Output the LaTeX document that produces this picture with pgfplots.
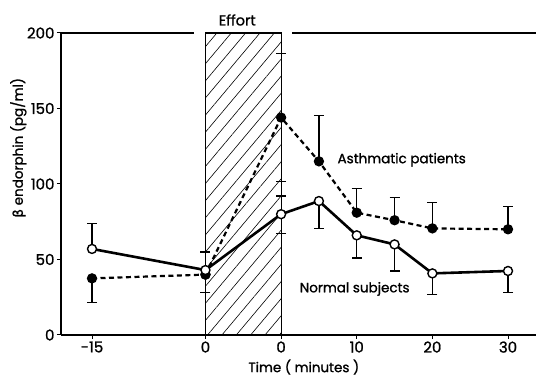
\documentclass[border=0pt]{standalone}
\usepackage{fontspec}
\setmainfont{Poppins}[FakeBold=1.2]
\newfontfamily\grk{DejaVu Sans}[FakeBold=1.2]
\usepackage{pgfplots}
\pgfplotsset{compat=1.18}
\usetikzlibrary{patterns.meta}
\begin{document}
\begin{tikzpicture}
\useasboundingbox (-61pt,-42pt) rectangle (475pt,335pt);
\begin{axis}[
  scale only axis, width=475pt, height=302pt,
  xmin=-19.1, xmax=43.7, ymin=0, ymax=200,
  axis lines*=left,
  axis line style={line width=1.6pt},
  xtick={-15,0,10,20,30,40}, xticklabels={-15,0,0,10,20,30},
  ytick={0,50,100,150,200},
  tick style={line width=1pt,black}, major tick length=4pt, tick align=outside,
  clip=false,
  /pgf/number format/assume math mode=true,
  ticklabel style={font=\fontsize{15}{15}\selectfont},
  xticklabel style={yshift=1pt},
  yticklabel style={xshift=1pt},
  xlabel={Time ( minutes )},
  xlabel style={font=\fontsize{13.5}{13.5}\selectfont, at={(axis cs:13,0)}, anchor=north, yshift=-21pt},
  ylabel={{\grk β} endorphin (pg/ml)},
  ylabel style={font=\fontsize{13.5}{13.5}\selectfont, at={(axis cs:-19.1,124)}, anchor=south, yshift=31pt},
  error bars/error bar style={line width=1.2pt,solid},
  error bars/error mark options={rotate=90, mark size=5pt, line width=1.2pt,solid},
]
\draw[line width=1.2pt, pattern={Lines[angle=50,distance=11pt,line width=0.6pt]}] (axis cs:0,0) rectangle (axis cs:10,200);
\draw[line width=1.6pt] (axis cs:-19.1,200) -- (axis cs:-1.5,200);
\draw[line width=1.6pt] (axis cs:11.5,200) -- (axis cs:43.7,200);

% error bars asthmatic
\addplot[draw=none, mark=none, error bars/.cd, y dir=plus, y explicit] coordinates {
 (10,144) +- (0,42.5) (15,115) +- (0,30.5) (20,81) +- (0,16) (25,76) +- (0,15) (30,70.6) +- (0,17.4) (40,70) +- (0,15)};
\addplot[draw=none, mark=none, error bars/.cd, y dir=minus, y explicit] coordinates {
 (-15,37.5) +- (0,16) (0,40) +- (0,12) (10,144) +- (0,42.5)};
% error bars normal
\addplot[draw=none, mark=none, error bars/.cd, y dir=plus, y explicit] coordinates {
 (-15,57) +- (0,17) (0,43) +- (0,12) (10,80) +- (0,12)};
\addplot[draw=none, mark=none, error bars/.cd, y dir=minus, y explicit] coordinates {
 (10,80) +- (0,13) (15,88.7) +- (0,18) (20,66) +- (0,15) (25,60) +- (0,17.6) (30,40.8) +- (0,13.8) (40,42.4) +- (0,14.1)};

% asthmatic patients
\addplot[black, line width=2.2pt, dash pattern=on 5pt off 3.5pt, mark=*, mark size=4pt, mark options={solid, fill=black}] coordinates {
 (-15,37.5) (0,40)};
\addplot[black, line width=2.2pt, dash pattern=on 5pt off 3.5pt, mark=*, mark size=4pt, mark options={solid, fill=black}] coordinates {
 (0,40) (10,144) (15,115) (20,81) (25,76) (30,70.6) (40,70)};
% normal subjects
\addplot[black, line width=2.6pt, mark=*, mark size=4.5pt, mark options={solid, fill=white, line width=1.4pt}] coordinates {
 (-15,57) (0,43) (10,80) (15,88.7) (20,66) (25,60) (30,40.8) (40,42.4)};

\node[font=\fontsize{14.5}{14.5}\selectfont, anchor=base] at (axis cs:4.2,205) {Effort};
\node[font=\fontsize{13.5}{13.5}\selectfont, anchor=west] at (axis cs:17.0,116) {Asthmatic patients};
\node[font=\fontsize{13.5}{13.5}\selectfont, anchor=west] at (axis cs:12.0,30.5) {Normal subjects};
\end{axis}
\end{tikzpicture}
\end{document}
